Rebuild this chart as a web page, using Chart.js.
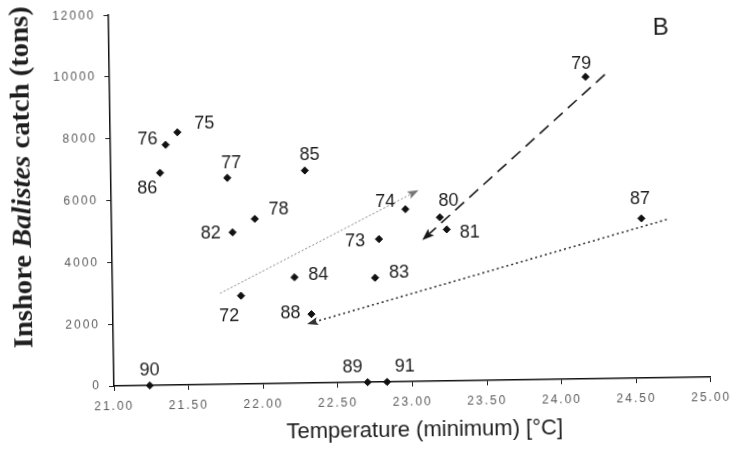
<!DOCTYPE html>
<html><head><meta charset="utf-8">
<script src="https://cdn.jsdelivr.net/npm/chart.js@4"></script>
<style>
html,body{margin:0;padding:0;background:#fff;overflow:hidden}
#wrap{width:734px;height:449px;transform:rotate(-0.86deg);transform-origin:114px 386px}
canvas{display:block}
</style></head><body>
<div id="wrap"><canvas id="c" width="734" height="449"></canvas></div>
<script>
// ---- data ----
const years       = ['72','73','74','75','76','77','78','79','80','81','82','83','84','85','86','87','88','89','90','91'];
const temperature = [21.86,22.79,22.97,21.45,21.37,21.78,21.96,24.19,23.20,23.245,21.81,22.76,22.22,22.30,21.33,24.55,22.33,22.70,21.24,22.83];
const catchTons   = [2860,4625,5580,8180,7780,6680,5340,9775,5300,4905,4915,3375,3430,6880,6875,5167,2229,0,0,0];
const xTicks = [21.0,21.5,22.0,22.5,23.0,23.5,24.0,24.5,25.0];
const yTicks = [0,2000,4000,6000,8000,10000,12000];
// trend arrows: [start, end]
const arrowGreyTemp   = [21.72, 23.06];
const arrowGreyCatch  = [2946, 6190];
const arrowDashTemp   = [24.32, 23.08];
const arrowDashCatch  = [9841, 4570];
const arrowDotTemp    = [24.72, 22.30];
const arrowDotCatch   = [5120, 1911];

// ---- styling (label placement relative to each point, px) ----
const labelOffsets = [[-12,20],[-24,2],[-20,-8],[27,-8],[-18,-6],[4,-15],[24,-9],[-4,-13],[9,-16],[23,4],
                      [-22,1],[24,-5],[24,-2],[5,-15],[-13,15],[-1,-19],[-21,-1],[-15,-15],[0,-15],[18,-15]];

const pts = temperature.map((t,i)=>({x:t, y:catchTons[i]}));
const seg = (xs, ys) => xs.map((x,i)=>({x, y:ys[i]}));

const tickSpacing = {
  id:'tickSpacing',
  beforeDraw(chart){ chart.ctx.letterSpacing = '2px'; },
  beforeDatasetsDraw(chart){ chart.ctx.letterSpacing = '0px'; }
};

const arrowHeads = {
  id:'arrowHeads',
  afterDatasetsDraw(chart){
    const ctx = chart.ctx;
    chart.data.datasets.forEach((ds,di)=>{
      if(!ds.arrowColor) return;
      const m = chart.getDatasetMeta(di).data;
      const a = m[0], b = m[1];
      const ang = Math.atan2(b.y-a.y, b.x-a.x);
      const L = ds.arrowLen, W = ds.arrowWid;
      ctx.save();
      ctx.translate(b.x,b.y); ctx.rotate(ang);
      ctx.beginPath();
      ctx.moveTo(0,0); ctx.lineTo(-L,-W/2); ctx.lineTo(-L*0.8,0); ctx.lineTo(-L,W/2); ctx.closePath();
      ctx.fillStyle = ds.arrowColor; ctx.fill();
      ctx.restore();
    });
  }
};

const textPlugin = {
  id:'texts',
  afterDraw(chart){
    const ctx = chart.ctx;
    ctx.save();
    ctx.letterSpacing = '0px';
    // point labels
    const meta = chart.getDatasetMeta(0);
    ctx.font = '18px "Liberation Sans", Arial, sans-serif';
    ctx.fillStyle = '#1e1e1e';
    ctx.textAlign = 'center'; ctx.textBaseline = 'middle';
    meta.data.forEach((p,i)=>{
      const o = labelOffsets[i];
      ctx.fillText(years[i], p.x+o[0], p.y+o[1]);
    });
    // panel letter
    ctx.font = '24px "Liberation Sans", Arial, sans-serif';
    ctx.fillText('B', 666, 36);
    // x title
    ctx.font = '22px "Liberation Sans", Arial, sans-serif';
    ctx.fillText('Temperature (minimum) [°C]', 424, 435);
    // y title with italic genus name
    const parts = [['Inshore ', 'bold'], ['Balistes', 'italic bold'], [' catch (tons)', 'bold']];
    const size = 27, fam = '"Liberation Serif", "Times New Roman", serif';
    let total = 0;
    const widths = parts.map(p=>{ ctx.font = p[1]+' '+size+'px '+fam; const w = ctx.measureText(p[0]).width; total += w; return w; });
    const target = 342;
    ctx.translate(33, 176); ctx.rotate(-Math.PI/2); ctx.scale(target/total, 1);
    ctx.textAlign = 'left'; ctx.textBaseline = 'alphabetic';
    let x = -total/2;
    parts.forEach((p,i)=>{ ctx.font = p[1]+' '+size+'px '+fam; ctx.fillText(p[0], x, 0); x += widths[i]; });
    ctx.restore();
  }
};

new Chart(document.getElementById('c'), {
  type:'scatter',
  data:{ datasets:[
    { data: pts, pointStyle:'rectRot', pointRadius:3.6, pointBackgroundColor:'#111', pointBorderColor:'#111', pointBorderWidth:1, showLine:false, clip:false },
    { data: seg(arrowGreyTemp, arrowGreyCatch), showLine:true, pointRadius:0, borderColor:'#8a8a8a', borderWidth:1, borderDash:[2,2], arrowColor:'#777', arrowLen:11, arrowWid:8, clip:false },
    { data: seg(arrowDashTemp, arrowDashCatch), showLine:true, pointRadius:0, borderColor:'#1a1a1a', borderWidth:1.6, borderDash:[12,7], arrowColor:'#1a1a1a', arrowLen:12, arrowWid:9, clip:false },
    { data: seg(arrowDotTemp, arrowDotCatch), showLine:true, pointRadius:0, borderColor:'#333', borderWidth:1.6, borderDash:[2,3], arrowColor:'#333', arrowLen:11, arrowWid:8, clip:false }
  ]},
  options:{
    responsive:false, animation:false,
    layout:{ padding:{ top:15, right:14, left:0, bottom:0 } },
    plugins:{ legend:{display:false}, tooltip:{enabled:false} },
    scales:{
      x:{ type:'linear', min:21, max:25,
          afterBuildTicks: s => { s.ticks = xTicks.map(v=>({value:v})); },
          afterFit: s => { s.height = 63; },
          grid:{ drawOnChartArea:false, drawTicks:true, tickLength:5, color:'#222' },
          border:{ color:'#111', width:1.5 },
          ticks:{ autoSkip:false, maxRotation:0, padding:8, color:'#5a5a5a', font:{ size:12, family:'"Liberation Sans", Arial, sans-serif' }, callback: v => Number(v).toFixed(2) } },
      y:{ type:'linear', min:0, max:12000,
          afterBuildTicks: s => { s.ticks = yTicks.map(v=>({value:v})); },
          afterFit: s => { s.width = 114; },
          grid:{ drawOnChartArea:false, drawTicks:true, tickLength:5, color:'#222' },
          border:{ color:'#111', width:1.5 },
          ticks:{ autoSkip:false, padding:8, color:'#5a5a5a', font:{ size:12, family:'"Liberation Sans", Arial, sans-serif' }, callback: v => String(v) } }
    }
  },
  plugins:[tickSpacing, arrowHeads, textPlugin]
});
</script>
</body></html>
